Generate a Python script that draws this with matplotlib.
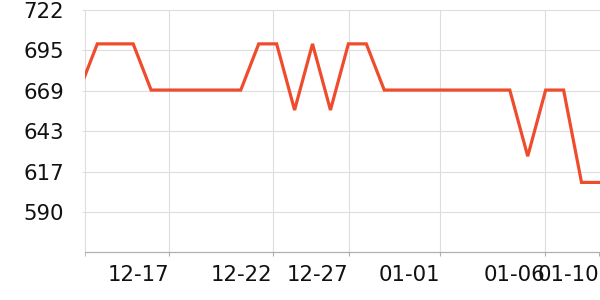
import matplotlib
matplotlib.use("Agg")
import matplotlib.pyplot as plt
import numpy as np

# ---- data ----
dates = [f"12-{d}" for d in range(12, 32)] + [f"01-{d:02d}" for d in range(1, 11)]
values = [670, 700, 700, 700, 670, 670, 670, 670, 670, 670,
          700, 700, 657, 700, 657, 700, 700, 670, 670, 670,
          670, 670, 670, 670, 670, 627, 670, 670, 610, 610]
tick_labels = ["12-17", "12-22", "12-27", "01-01", "01-06", "01-10"]
tick_pos = [5.0, 10.77, 15.03, 20.12, 25.97, 29.0]
y_min, y_max = 564.6, 722
y_labels = ["590", "617", "643", "669", "695", "722"]

# ---- figure ----
fig = plt.figure(figsize=(6, 3), dpi=100)
ax = fig.add_axes([85 / 600, 47.7 / 300, 515 / 600, 242.3 / 300])

x = np.arange(len(values))
ax.plot(x, values, color="#ef4c2d", lw=2.3, solid_joinstyle="miter", zorder=3)

ax.set_xlim(0.314, 29.03)
ax.set_ylim(y_min, y_max)

yt = np.linspace(y_min, y_max, 7)[1:]
ax.set_yticks(yt)
ax.set_yticklabels(y_labels)
ax.set_xticks(tick_pos)
ax.set_xticklabels(tick_labels)
for tl in ax.get_xticklabels():
    tl.set_ha("right")

ax.set_xticks([0.314], minor=True)

ax.grid(True, color="#dddddd", lw=0.8, zorder=0)
ax.get_xgridlines()[-1].set_visible(False)
for s in ["top", "right"]:
    ax.spines[s].set_visible(False)
ax.spines["left"].set_color("#dddddd")
ax.spines["left"].set_linewidth(0.8)
ax.spines["bottom"].set_color("#b0b0b0")
ax.spines["bottom"].set_linewidth(0.9)

ax.tick_params(axis="y", length=2, color="#dddddd", pad=13, labelsize=15.3, labelcolor="#111111")
ax.tick_params(axis="x", which="both", length=3, color="#b0b0b0", pad=6, labelsize=15.3, labelcolor="#111111")

fig.savefig("out.png", dpi=100)
